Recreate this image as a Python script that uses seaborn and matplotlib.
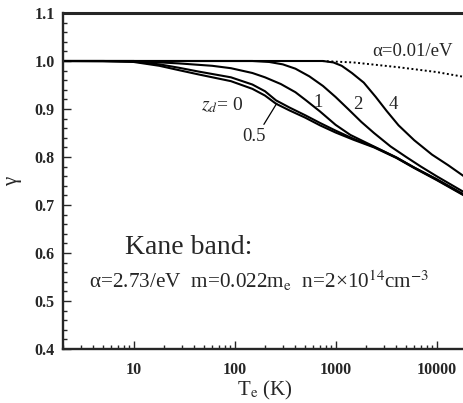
import numpy as np
import pandas as pd
import matplotlib
matplotlib.use("Agg")
import matplotlib.pyplot as plt
import seaborn as sns
from matplotlib.ticker import MultipleLocator, LogLocator, FixedLocator, NullFormatter

# ---- data ----
T_z0 = [2, 5, 10, 18, 28, 44, 92, 150, 200, 257, 350, 500, 700, 1000, 1500, 2400, 4000, 6000, 10000, 18600]
g_z0 = [1.0, 0.9995, 0.998, 0.99, 0.981, 0.972, 0.958, 0.942, 0.928, 0.911, 0.897, 0.882, 0.866, 0.851, 0.836, 0.82, 0.798, 0.777, 0.752, 0.72]

T_z05 = [2, 5, 10, 18, 28, 44, 92, 150, 200, 257, 350, 500, 700, 1000, 1500, 2400, 4000, 6000, 10000, 18600]
g_z05 = [1.0, 1.0, 0.999, 0.993, 0.986, 0.978, 0.966, 0.951, 0.937, 0.918, 0.903, 0.887, 0.871, 0.855, 0.838, 0.821, 0.799, 0.778, 0.753, 0.721]

T_z1 = [2, 10, 28, 60, 92, 150, 200, 287, 400, 510, 700, 1000, 1400, 2000, 2800, 4000, 6000, 10000, 18600]
g_z1 = [1.0, 1.0, 0.995, 0.99, 0.985, 0.975, 0.966, 0.952, 0.935, 0.918, 0.895, 0.867, 0.846, 0.83, 0.815, 0.799, 0.778, 0.754, 0.722]

T_z2 = [2, 150, 220, 300, 400, 550, 750, 1000, 1330, 1800, 2400, 3500, 5000, 7000, 10000, 18600]
g_z2 = [1.0, 1.0, 0.998, 0.993, 0.984, 0.968, 0.948, 0.925, 0.9, 0.873, 0.85, 0.822, 0.8, 0.78, 0.76, 0.727]

T_z4 = [2, 750, 950, 1150, 1450, 1900, 2500, 3200, 4200, 6000, 9000, 13000, 18600]
g_z4 = [1.0, 1.0, 0.997, 0.99, 0.975, 0.955, 0.925, 0.896, 0.866, 0.835, 0.805, 0.783, 0.76]

T_small = [2, 720, 1500, 4200, 10000, 18600]
g_small = [1.0, 1.0, 0.997, 0.987, 0.977, 0.967]

y_ticks = [0.4, 0.5, 0.6, 0.7, 0.8, 0.9, 1.0, 1.1]
y_ticklabels = ["0.4", "0.5", "0.6", "0.7", "0.8", "0.9", "1.0", "1.1"]
x_ticks = [10, 100, 1000, 10000]
x_ticklabels = ["10", "100", "1000", "10000"]

# ---- style ----
sns.set_style("ticks")
plt.rcParams["font.family"] = ["Liberation Serif", "DejaVu Serif"]
plt.rcParams["mathtext.fontset"] = "stix"

fig = plt.figure(figsize=(4.64, 4.03), dpi=100)
ax = fig.add_axes([63 / 464, 1 - 349 / 403, (467 - 63) / 464, (349 - 13) / 403])

curves = [("0", T_z0, g_z0), ("0.5", T_z05, g_z05), ("1", T_z1, g_z1),
          ("2", T_z2, g_z2), ("4", T_z4, g_z4)]
for name, T, g in curves:
    df = pd.DataFrame({"T": T, "g": g})
    sns.lineplot(data=df, x="T", y="g", ax=ax, color="black", lw=1.5, sort=False)

df_s = pd.DataFrame({"T": T_small, "g": g_small})
sns.lineplot(data=df_s, x="T", y="g", ax=ax, color="black", lw=1.4,
             linestyle=(0, (1.0, 1.3)), sort=False)

ax.set_xscale("log")
ax.set_xlim(2, 2e4)
ax.set_ylim(0.4, 1.1)

ax.yaxis.set_major_locator(FixedLocator(y_ticks))
ax.set_yticklabels(y_ticklabels, fontweight="bold")
ax.yaxis.set_minor_locator(MultipleLocator(0.02))
ax.xaxis.set_major_locator(FixedLocator(x_ticks))
ax.set_xticklabels(x_ticklabels, fontweight="bold")
ax.xaxis.set_minor_locator(LogLocator(base=10, subs=np.arange(2, 10)))
ax.xaxis.set_minor_formatter(NullFormatter())

ax.tick_params(which="both", direction="in", top=False, right=False,
               labelsize=11.5, width=1.0)
ax.tick_params(which="major", length=6)
ax.tick_params(which="minor", length=3)
ax.tick_params(axis="y", pad=6)
ax.tick_params(axis="x", pad=9)

for s in ["left", "bottom"]:
    ax.spines[s].set_linewidth(1.7)
ax.spines["top"].set_linewidth(2.2)
ax.spines["right"].set_visible(False)

ax.set_xlabel("T$_\\mathrm{e}$ (K)", fontsize=15, labelpad=1)
ax.set_ylabel("γ", fontsize=15, labelpad=9)

# annotations
ax.text(8.2, 0.612, "Kane band:", fontsize=20, va="center", ha="left")
ax.text(3.6, 0.541,
        "α=2.73/eV  m=0.022m$_\\mathrm{e}$  n=2×10$^{14}$cm$^{-3}$",
        fontsize=15.3, va="center", ha="left")
ax.text(46, 0.908, "$z_d$= 0", fontsize=14, va="center", ha="left")
ax.text(118, 0.843, "0.5", fontsize=13.5, va="center", ha="left")
ax.plot([195, 262], [0.868, 0.912], color="black", lw=0.9)
ax.text(670, 0.914, "1", fontsize=13.5, va="center", ha="center")
ax.text(1670, 0.91, "2", fontsize=13.5, va="center", ha="center")
ax.text(3730, 0.91, "4", fontsize=13.5, va="center", ha="center")
ax.text(2330, 1.019, "α=0.01/eV", fontsize=13.5, va="center", ha="left")

fig.savefig("out.png", dpi=100)
